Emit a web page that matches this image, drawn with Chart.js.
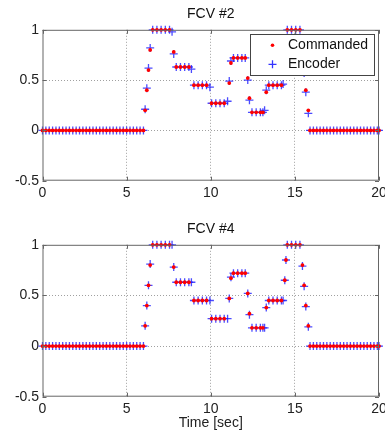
<!DOCTYPE html>
<html>
<head>
<meta charset="utf-8">
<script src="https://cdn.jsdelivr.net/npm/chart.js@4.4.0/dist/chart.umd.min.js"></script>
<style>
body { margin: 0; background: #fff; }
canvas { display: block; }
</style>
</head>
<body>
<canvas id="chart1" width="385" height="215"></canvas>
<canvas id="chart2" width="385" height="220"></canvas>
<script>
// sample times [sec], shared by both valves (null value = no sample for that series)
var TIME = [
  0, 0.2, 0.4, 0.6, 0.8, 1, 1.2, 1.4, 1.6, 1.8, 2, 2.2, 2.4, 2.6, 2.8, 3, 3.2, 3.4, 3.6, 3.8, 4, 4.2, 4.4, 4.6, 4.8, 5, 5.2, 5.4, 5.6, 5.8, 6,
  6.1, 6.2, 6.3, 6.4, 6.55, 6.8, 7.05, 7.3, 7.55, 7.7, 7.8, 7.95, 8.2, 8.45, 8.7, 8.85,
  9, 9.25, 9.5, 9.75, 9.95, 10.05, 10.3, 10.55, 10.8, 11, 11.1, 11.2, 11.35, 11.6, 11.85, 12.05,
  12.2, 12.3, 12.45, 12.7, 12.95, 13.1, 13.2, 13.3, 13.45, 13.7, 13.95, 14.2, 14.3, 14.4, 14.47,
  14.55, 14.8, 15.05, 15.3, 15.45, 15.55, 15.65, 15.8,
  15.9, 16.1, 16.3, 16.5, 16.7, 16.9, 17.1, 17.3, 17.5, 17.7, 17.9, 18.1, 18.3, 18.5, 18.7, 18.9, 19.1, 19.3, 19.5, 19.7, 19.9, 20
];

var CMD2 = [
  0, 0, 0, 0, 0, 0, 0, 0, 0, 0, 0, 0, 0, 0, 0, 0, 0, 0, 0, 0, 0, 0, 0, 0, 0, 0, 0, 0, 0, 0, 0,
  0.2, 0.4, 0.6, 0.8, 1, 1, 1, 1, 1, null, 0.78, 0.63, 0.63, 0.63, 0.63, null,
  0.45, 0.45, 0.45, 0.45, null, 0.27, 0.27, 0.27, 0.27, null, 0.47, 0.67, 0.72, 0.72, 0.72, 0.72,
  0.52, 0.32, 0.18, 0.18, 0.18, 0.18, null, 0.38, 0.45, 0.45, 0.45, 0.45, null, 0.65, 0.85,
  1, 1, 1, 1, 0.8, 0.6, 0.4, 0.2,
  0, 0, 0, 0, 0, 0, 0, 0, 0, 0, 0, 0, 0, 0, 0, 0, 0, 0, 0, 0, 0, 0
];
var ENC2 = [
  0, 0, 0, 0, 0, 0, 0, 0, 0, 0, 0, 0, 0, 0, 0, 0, 0, 0, 0, 0, 0, 0, 0, 0, 0, 0, 0, 0, 0, 0, 0,
  0.21, 0.42, 0.62, 0.82, 1, 1, 1, 1, 1, 0.98, 0.76, 0.63, 0.63, 0.63, 0.63, 0.61,
  0.45, 0.45, 0.45, 0.45, 0.43, 0.27, 0.27, 0.27, 0.27, 0.29, 0.49, 0.69, 0.72, 0.72, 0.72, 0.72,
  0.5, 0.3, 0.18, 0.18, 0.18, 0.18, 0.2, 0.4, 0.45, 0.45, 0.45, 0.45, 0.46, 0.66, 0.86,
  1, 1, 1, 1, 0.8, 0.57, 0.38, 0.17,
  0, 0, 0, 0, 0, 0, 0, 0, 0, 0, 0, 0, 0, 0, 0, 0, 0, 0, 0, 0, 0, 0
];

var CMD4 = [
  0, 0, 0, 0, 0, 0, 0, 0, 0, 0, 0, 0, 0, 0, 0, 0, 0, 0, 0, 0, 0, 0, 0, 0, 0, 0, 0, 0, 0, 0, 0,
  0.2, 0.4, 0.6, 0.8, 1, 1, 1, 1, 1, null, 0.78, 0.63, 0.63, 0.63, 0.63, null,
  0.45, 0.45, 0.45, 0.45, null, 0.27, 0.27, 0.27, 0.27, null, 0.47, 0.67, 0.72, 0.72, 0.72, 0.72,
  0.52, 0.32, 0.18, 0.18, 0.18, 0.18, null, 0.38, 0.45, 0.45, 0.45, 0.45, null, 0.65, 0.85,
  1, 1, 1, 1, 0.8, 0.6, 0.4, 0.2,
  0, 0, 0, 0, 0, 0, 0, 0, 0, 0, 0, 0, 0, 0, 0, 0, 0, 0, 0, 0, 0, 0
];
var ENC4 = [
  0, 0, 0, 0, 0, 0, 0, 0, 0, 0, 0, 0, 0, 0, 0, 0, 0, 0, 0, 0, 0, 0, 0, 0, 0, 0, 0, 0, 0, 0, 0,
  0.2, 0.4, 0.6, 0.81, 1, 1, 1, 1, 1, 1, 0.78, 0.63, 0.63, 0.63, 0.63, 0.63,
  0.45, 0.45, 0.45, 0.45, 0.45, 0.27, 0.27, 0.27, 0.27, 0.27, 0.47, 0.68, 0.72, 0.72, 0.72, 0.72,
  0.52, 0.31, 0.18, 0.18, 0.18, 0.18, 0.18, 0.38, 0.45, 0.45, 0.45, 0.45, 0.45, 0.65, 0.85,
  1, 1, 1, 1, 0.79, 0.59, 0.39, 0.19,
  0, 0, 0, 0, 0, 0, 0, 0, 0, 0, 0, 0, 0, 0, 0, 0, 0, 0, 0, 0, 0, 0
];

var X_TICKS = { min: 0, max: 20, step: 5 };
var Y_TICKS = { min: -0.5, max: 1, step: 0.5 };
var LABELS = ['Commanded', 'Encoder'];

var FONT = 'Liberation Sans, Arial, Helvetica, sans-serif';
Chart.defaults.font.family = FONT;
Chart.defaults.color = '#222';

function toPoints(values) {
  return TIME.map(function(t, i) { return { x: t, y: values[i] }; });
}

function gridColor(min, max) {
  return function(ctx) {
    if (!ctx.tick) return 'rgba(0,0,0,0)';
    var v = ctx.tick.value;
    if (Math.abs(v - min) < 1e-9 || Math.abs(v - max) < 1e-9) return 'rgba(0,0,0,0)';
    return '#a0a0a0';
  };
}

// axes box + small inward tick marks, like the original plot
var framePlugin = {
  id: 'frame',
  afterDatasetsDraw: function(chart) {
    var a = chart.chartArea;
    var c = chart.ctx;
    c.save();
    c.strokeStyle = '#666';
    c.lineWidth = 1;
    c.strokeRect(a.left + 0.5, a.top + 0.5, a.right - a.left - 1, a.bottom - a.top - 1);
    c.beginPath();
    chart.scales.x.ticks.forEach(function(t) {
      var px = Math.round(chart.scales.x.getPixelForValue(t.value)) + 0.5;
      c.moveTo(px, a.bottom); c.lineTo(px, a.bottom - 4);
      c.moveTo(px, a.top); c.lineTo(px, a.top + 4);
    });
    chart.scales.y.ticks.forEach(function(t) {
      var py = Math.round(chart.scales.y.getPixelForValue(t.value)) + 0.5;
      c.moveTo(a.left, py); c.lineTo(a.left + 4, py);
      c.moveTo(a.right, py); c.lineTo(a.right - 4, py);
    });
    c.stroke();
    c.restore();
  }
};

// legend box drawn inside the plot, over the data
var boxLegendPlugin = {
  id: 'boxLegend',
  afterDraw: function(chart) {
    if (!chart.options.plugins.boxLegend || !chart.options.plugins.boxLegend.show) return;
    var a = chart.chartArea;
    var c = chart.ctx;
    var w = 124, h = 41;
    var x0 = a.right - 5 - w, y0 = a.top + 4.5;
    c.save();
    c.fillStyle = '#fff';
    c.fillRect(x0, y0, w, h);
    c.strokeStyle = '#444';
    c.lineWidth = 1;
    c.strokeRect(Math.round(x0) + 0.5, Math.round(y0) + 0.5, w, h);
    c.fillStyle = '#f00';
    c.beginPath();
    c.arc(x0 + 22.5, y0 + 11, 1.8, 0, Math.PI * 2);
    c.fill();
    c.strokeStyle = 'rgba(30,30,255,0.9)';
    c.lineWidth = 1.3;
    c.beginPath();
    c.moveTo(x0 + 18.5, y0 + 30); c.lineTo(x0 + 26.5, y0 + 30);
    c.moveTo(x0 + 22.5, y0 + 26); c.lineTo(x0 + 22.5, y0 + 34);
    c.stroke();
    c.fillStyle = '#111';
    c.font = '14px ' + FONT;
    c.textBaseline = 'middle';
    c.fillText(LABELS[0], x0 + 38, y0 + 11);
    c.fillText(LABELS[1], x0 + 38, y0 + 30);
    c.restore();
  }
};

function makeChart(id, title, cmd, enc, xTitle, xHeight, legend) {
  return new Chart(document.getElementById(id), {
    type: 'scatter',
    data: {
      datasets: [{
        label: LABELS[0],
        data: toPoints(cmd),
        pointStyle: 'circle',
        pointRadius: 1.9,
        pointBorderWidth: 0,
        backgroundColor: '#ff0000',
        borderColor: '#ff0000',
        clip: false
      }, {
        label: LABELS[1],
        data: toPoints(enc),
        pointStyle: 'cross',
        pointRadius: 4,
        pointBorderWidth: 1.3,
        borderColor: 'rgba(30,30,255,0.8)',
        backgroundColor: 'rgba(30,30,255,0.8)',
        clip: false
      }]
    },
    options: {
      responsive: false,
      animation: false,
      events: [],
      layout: { padding: { left: 0, right: 6, top: 0, bottom: 0 } },
      plugins: {
        legend: { display: false },
        tooltip: { enabled: false },
        title: {
          display: true,
          fullSize: false,
          text: title,
          color: '#111',
          font: { size: 14, weight: 'normal' },
          padding: { top: 6, bottom: 7 }
        },
        boxLegend: { show: legend }
      },
      scales: {
        x: {
          type: 'linear',
          min: X_TICKS.min,
          max: X_TICKS.max,
          ticks: { stepSize: X_TICKS.step, padding: 4, maxRotation: 0, font: { size: 14 }, color: '#222' },
          grid: { drawTicks: false, color: gridColor(X_TICKS.min, X_TICKS.max), lineWidth: 1 },
          border: { display: false, dash: [1, 2] },
          title: { display: !!xTitle, text: xTitle, color: '#222', font: { size: 14 }, padding: { top: 0, bottom: 3 } },
          afterFit: function(s) { s.height = xHeight; s.paddingLeft = 0; s.paddingRight = 0; }
        },
        y: {
          type: 'linear',
          min: Y_TICKS.min,
          max: Y_TICKS.max,
          ticks: {
            stepSize: Y_TICKS.step,
            padding: 3.5,
            font: { size: 14 },
            color: '#222',
            callback: function(v) { return String(Math.round(v * 10) / 10); }
          },
          grid: { drawTicks: false, color: gridColor(Y_TICKS.min, Y_TICKS.max), lineWidth: 1 },
          border: { display: false, dash: [1, 2] },
          afterFit: function(s) { s.width = 42.5; s.paddingTop = 0; s.paddingBottom = 0; }
        }
      }
    },
    plugins: [framePlugin, boxLegendPlugin]
  });
}

makeChart('chart1', 'FCV #2', CMD2, ENC2, '', 34.3, true);
makeChart('chart2', 'FCV #4', CMD4, ENC4, 'Time [sec]', 38.3, false);
</script>
</body>
</html>
